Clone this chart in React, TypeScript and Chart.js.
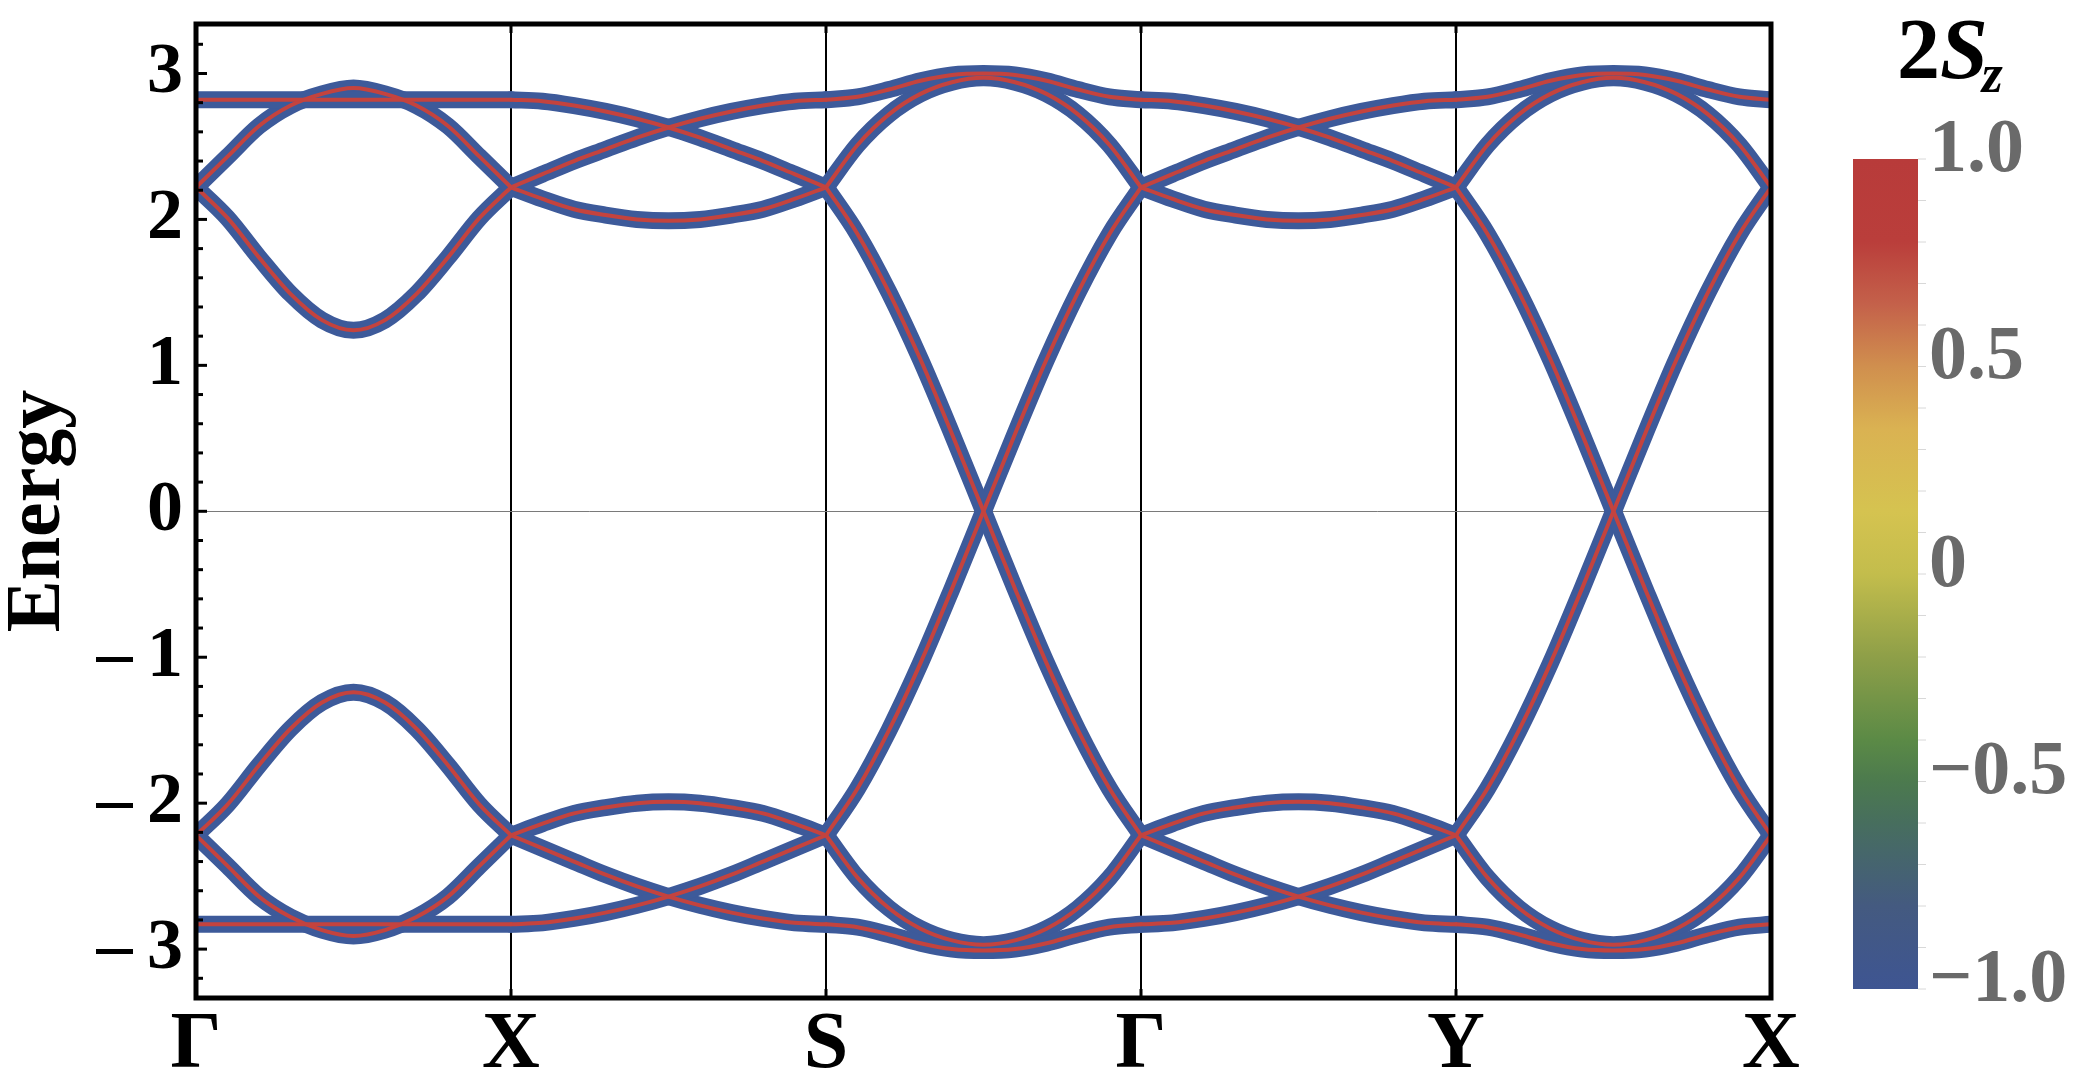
import React, { useEffect, useRef } from 'react';
import { Chart, registerables } from 'chart.js';

Chart.register(...registerables);

// ---------- data ----------
const kFrac = [0, 0.1, 0.2, 0.3, 0.4, 0.5, 0.6, 0.7, 0.8, 0.9, 1.0];
const pathTicks = [0, 1, 2, 3, 4, 5];
const pathLabels = ['Γ', 'X', 'S', 'Γ', 'Y', 'X'];
const energyTicks = [-3, -2, -1, 0, 1, 2, 3];
const colorbarTicks = [1.0, 0.5, 0, -0.5, -1.0];
const colorbarLabels = ['1.0', '0.5', '0', '−0.5', '−1.0'];

// Γ → X
const gxFlatTop = [2.82, 2.82, 2.82, 2.82, 2.82, 2.82, 2.82, 2.82, 2.82, 2.82, 2.82];
const gxArcUp = [2.22, 2.43, 2.64, 2.78, 2.86, 2.90, 2.86, 2.78, 2.64, 2.43, 2.22];
const gxArcDown = [2.22, 2.01, 1.74, 1.49, 1.31, 1.24, 1.31, 1.49, 1.74, 2.01, 2.22];
const gxFlatBot = [-2.83, -2.83, -2.83, -2.83, -2.83, -2.83, -2.83, -2.83, -2.83, -2.83, -2.83];
const gxArcLow = [-2.22, -2.43, -2.64, -2.78, -2.87, -2.91, -2.87, -2.78, -2.64, -2.43, -2.22];
const gxArcHigh = [-2.22, -2.01, -1.74, -1.49, -1.31, -1.24, -1.31, -1.49, -1.74, -2.01, -2.22];

// X → S (same shape along Γ → Y)
const xsDesc = [2.82, 2.81, 2.78, 2.74, 2.69, 2.63, 2.56, 2.48, 2.40, 2.31, 2.22];
const xsAsc = [2.22, 2.31, 2.40, 2.48, 2.56, 2.63, 2.69, 2.74, 2.78, 2.81, 2.82];
const xsDip = [2.22, 2.14, 2.07, 2.03, 2.00, 1.99, 2.00, 2.03, 2.07, 2.14, 2.22];
const xsDescLow = [-2.83, -2.82, -2.79, -2.75, -2.70, -2.64, -2.57, -2.49, -2.40, -2.31, -2.22];
const xsAscLow = [-2.22, -2.31, -2.40, -2.49, -2.57, -2.64, -2.70, -2.75, -2.79, -2.82, -2.83];
const xsDipLow = [-2.22, -2.14, -2.07, -2.03, -2.00, -1.99, -2.00, -2.03, -2.07, -2.14, -2.22];

// S → Γ (same shape along Y → X)
const sgWavy = [2.82, 2.84, 2.89, 2.95, 2.99, 3.00, 2.99, 2.95, 2.89, 2.84, 2.82];
const sgArc = [2.22, 2.51, 2.72, 2.86, 2.94, 2.97, 2.94, 2.86, 2.72, 2.51, 2.22];
const sgFall = [2.22, 1.90, 1.50, 1.04, 0.53, 0.00, -0.53, -1.04, -1.50, -1.90, -2.22];
const sgRise = [-2.22, -1.90, -1.50, -1.04, -0.53, 0.00, 0.53, 1.04, 1.50, 1.90, 2.22];
const sgWavyLow = [-2.83, -2.85, -2.90, -2.96, -3.00, -3.01, -3.00, -2.96, -2.90, -2.85, -2.83];
const sgArcLow = [-2.22, -2.51, -2.72, -2.86, -2.94, -2.97, -2.94, -2.86, -2.72, -2.51, -2.22];

const gxBands = [gxFlatTop, gxArcUp, gxArcDown, gxFlatBot, gxArcLow, gxArcHigh];
const xsBands = [xsDesc, xsAsc, xsDip, xsDescLow, xsAscLow, xsDipLow];
const sgBands = [sgWavy, sgArc, sgFall, sgRise, sgWavyLow, sgArcLow];
const pathSegments = [gxBands, xsBands, sgBands, xsBands, sgBands];

// ---------- style ----------
const BLUE = '#3d5a9a';
const RED = '#c4433e';
const SERIF = '"Liberation Serif", "DejaVu Serif", "Times New Roman", serif';

const cbStops: [number, string][] = [
  [1.0, '#b83b3a'],
  [0.8, '#ba3e3b'],
  [0.65, '#c4614a'],
  [0.5, '#d08f4e'],
  [0.35, '#dab252'],
  [0.15, '#d5c350'],
  [0.0, '#c3bd4c'],
  [-0.2, '#8e9f48'],
  [-0.4, '#5b8a46'],
  [-0.5, '#4c7a4e'],
  [-0.6, '#476e5e'],
  [-0.8, '#445a80'],
  [-1.0, '#3e5592'],
];

const CB = { left: 1853, right: 1918, top: 159, bottom: 989 };

const decorPlugin = {
  id: 'decor',
  afterDatasetsDraw(chart: any) {
    const { ctx, chartArea } = chart;
    const xs = chart.scales.x;
    const ys = chart.scales.y;
    ctx.save();
    // frame
    ctx.strokeStyle = '#000';
    ctx.lineWidth = 5;
    ctx.strokeRect(chartArea.left, chartArea.top, chartArea.right - chartArea.left, chartArea.bottom - chartArea.top);
    // left ticks (major integers, minor every 0.2)
    ctx.lineWidth = 3;
    for (let i = -16; i <= 16; i++) {
      const v = i * 0.2;
      const y = ys.getPixelForValue(v);
      if (y < chartArea.top + 3 || y > chartArea.bottom - 3) continue;
      const major = i % 5 === 0;
      const len = major ? 11 : 7;
      ctx.beginPath();
      ctx.moveTo(chartArea.left, y);
      ctx.lineTo(chartArea.left + len, y);
      ctx.stroke();
    }
    // top / bottom ticks at high-symmetry points
    pathTicks.forEach((v) => {
      const x = xs.getPixelForValue(v);
      ctx.beginPath();
      ctx.moveTo(x, chartArea.bottom);
      ctx.lineTo(x, chartArea.bottom - 9);
      ctx.moveTo(x, chartArea.top);
      ctx.lineTo(x, chartArea.top + 9);
      ctx.stroke();
    });

    // colorbar
    const cbY = (v: number) => CB.top + ((1 - v) / 2) * (CB.bottom - CB.top);
    const grad = ctx.createLinearGradient(0, CB.top, 0, CB.bottom);
    cbStops.forEach(([v, c]) => grad.addColorStop((1 - v) / 2, c));
    ctx.fillStyle = grad;
    ctx.fillRect(CB.left, CB.top, CB.right - CB.left, CB.bottom - CB.top);
    ctx.strokeStyle = '#d8d8d8';
    ctx.lineWidth = 1;
    for (let i = -10; i <= 10; i++) {
      const y = cbY(i / 10);
      ctx.beginPath();
      ctx.moveTo(CB.right, y);
      ctx.lineTo(CB.right + 8, y);
      ctx.stroke();
    }
    ctx.fillStyle = '#6a6a6a';
    ctx.font = `bold 76px ${SERIF}`;
    ctx.textAlign = 'left';
    ctx.textBaseline = 'middle';
    colorbarTicks.forEach((v, i) => {
      ctx.fillText(colorbarLabels[i], 1929, cbY(v) - 8);
    });

    // colorbar title 2S_z
    ctx.fillStyle = '#000';
    ctx.textBaseline = 'alphabetic';
    ctx.font = `bold 86px ${SERIF}`;
    let x = 1897;
    ctx.fillText('2', x, 78);
    x += ctx.measureText('2').width;
    ctx.font = `italic bold 86px ${SERIF}`;
    ctx.fillText('S', x, 78);
    x += ctx.measureText('S').width;
    ctx.font = `italic bold 54px ${SERIF}`;
    ctx.fillText('z', x - 6, 92);
    ctx.restore();
  },
};

export default function App() {
  const ref = useRef<HTMLCanvasElement | null>(null);
  useEffect(() => {
    if (!ref.current) return;
    const common = {
      showLine: true,
      pointRadius: 0,
      pointHoverRadius: 0,
      fill: false,
      cubicInterpolationMode: 'monotone' as const,
      borderCapStyle: 'round' as const,
      borderJoinStyle: 'round' as const,
      clip: 0,
    };
    const datasets: any[] = [];
    pathSegments.forEach((bands, s) => {
      bands.forEach((band) => {
        const data = kFrac.map((t, i) => ({ x: pathTicks[s] + t, y: band[i] }));
        datasets.push({ ...common, data, borderColor: BLUE, borderWidth: 17, order: 2 });
        datasets.push({ ...common, data, borderColor: RED, borderWidth: 4, order: 1 });
      });
    });

    const chart = new Chart(ref.current, {
      type: 'line',
      data: { datasets },
      options: {
        animation: false,
        responsive: false,
        devicePixelRatio: 1,
        events: [],
        layout: { padding: { left: 0, top: 24, right: 2092 - 1771, bottom: 0 } },
        plugins: { legend: { display: false }, tooltip: { enabled: false }, title: { display: false } },
        scales: {
          x: {
            type: 'linear',
            min: 0,
            max: 5,
            afterBuildTicks: (scale: any) => {
              scale.ticks = pathTicks.map((v) => ({ value: v }));
            },
            afterFit: (scale: any) => {
              scale.height = 92;
              scale.paddingLeft = 0;
              scale.paddingRight = 0;
            },
            ticks: {
              autoSkip: false,
              maxRotation: 0,
              padding: 0,
              color: '#000',
              font: { family: SERIF, weight: 'bold', size: 80 },
              callback: (_v: any, i: number) => pathLabels[i],
            },
            grid: { color: '#000', lineWidth: 2, drawTicks: false },
            border: { display: false },
          },
          y: {
            type: 'linear',
            min: -3.335,
            max: 3.339,
            afterBuildTicks: (scale: any) => {
              scale.ticks = energyTicks.map((v) => ({ value: v }));
            },
            afterFit: (scale: any) => {
              scale.width = 196;
              scale.paddingTop = 0;
              scale.paddingBottom = 0;
            },
            ticks: {
              padding: 13,
              color: '#000',
              font: { family: SERIF, weight: 'bold', size: 72 },
              callback: (v: any) => (v < 0 ? '–\u2009' + Math.abs(v) : String(v)),
            },
            grid: {
              drawTicks: false,
              lineWidth: 1,
              color: (c: any) => (c.tick && c.tick.value === 0 ? '#7a7a7a' : 'rgba(0,0,0,0)'),
            },
            border: { display: false },
            title: {
              display: true,
              text: 'Energy',
              color: '#000',
              padding: { top: 0, bottom: 0 },
              font: { family: SERIF, weight: 'bold', size: 78, lineHeight: 1.0 },
            },
          },
        },
      },
      plugins: [decorPlugin],
    } as any);
    return () => chart.destroy();
  }, []);

  return (
    <div style={{ position: 'fixed', left: 0, top: 0, width: 2092, height: 1090, background: '#fff' }}>
      <canvas ref={ref} width={2092} height={1090} style={{ width: 2092, height: 1090, display: 'block' }} />
    </div>
  );
}
